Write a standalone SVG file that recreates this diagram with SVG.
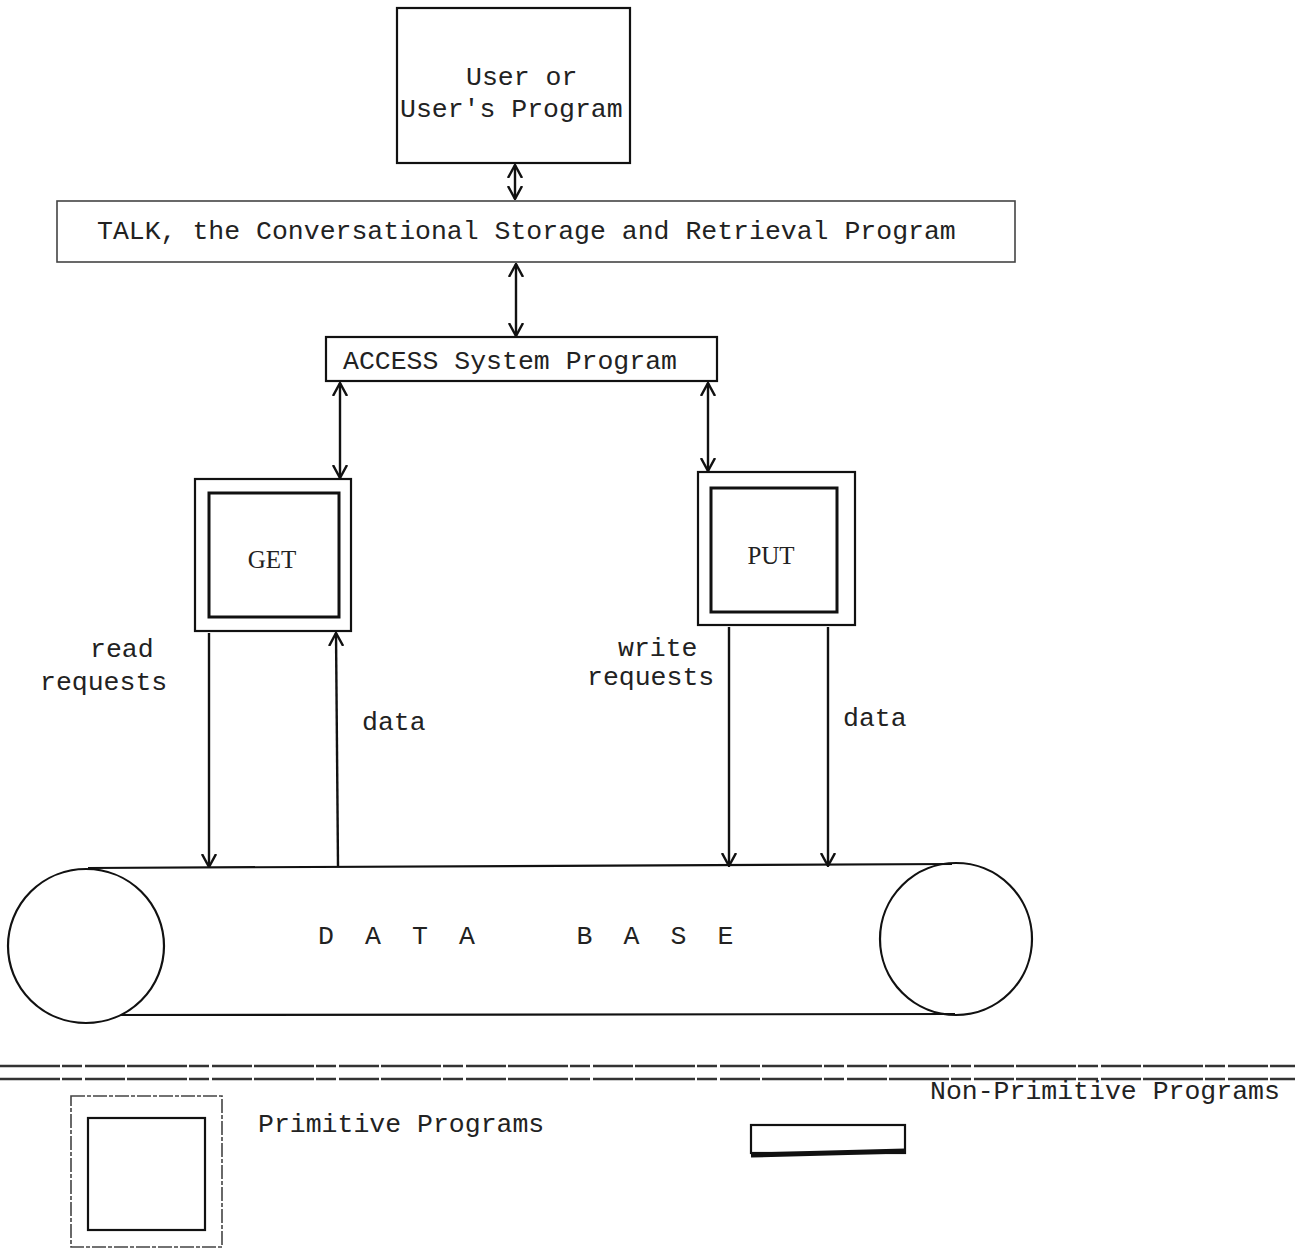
<svg xmlns="http://www.w3.org/2000/svg" width="1295" height="1250" viewBox="0 0 1295 1250">
<style>
  .t { font-family: "Liberation Mono", "Courier New", monospace; font-size: 26.5px; fill: #222; }
  .s { font-family: "Liberation Serif", "Times New Roman", serif; font-size: 25px; fill: #222; }
  .box { fill: none; stroke: #111; stroke-width: 2.2; }
  .boxg { fill: none; stroke: #444; stroke-width: 1.6; }
  .inner { fill: none; stroke: #111; stroke-width: 3; }
  .conn { fill: none; stroke: #111; stroke-width: 2.4; }
  .sep { fill: none; stroke: #333; stroke-width: 2.4; stroke-dasharray: 60 2 20 3 40 2; }
</style>
<defs>
  <marker id="ah" viewBox="0 0 14 16" refX="13" refY="8" markerWidth="14" markerHeight="16" markerUnits="userSpaceOnUse" orient="auto-start-reverse">
    <path d="M0,1 L13,8 L0,15" fill="none" stroke="#111" stroke-width="2.4"/>
  </marker>
</defs>
<rect width="1295" height="1250" fill="#fff"/>

<g id="connectors">
  <line class="conn" x1="515" y1="165" x2="515" y2="199" marker-start="url(#ah)" marker-end="url(#ah)"/>
  <line class="conn" x1="516" y1="264" x2="516" y2="336" marker-start="url(#ah)" marker-end="url(#ah)"/>
  <line class="conn" x1="340" y1="383" x2="340" y2="478" marker-start="url(#ah)" marker-end="url(#ah)"/>
  <line class="conn" x1="708" y1="383" x2="708" y2="471" marker-start="url(#ah)" marker-end="url(#ah)"/>
  <line class="conn" x1="209" y1="633" x2="209" y2="867" marker-end="url(#ah)"/>
  <line class="conn" x1="338" y1="866" x2="336" y2="633" marker-end="url(#ah)"/>
  <line class="conn" x1="729" y1="627" x2="729" y2="866" marker-end="url(#ah)"/>
  <line class="conn" x1="828" y1="627" x2="828" y2="866" marker-end="url(#ah)"/>
  <text class="t" x="90" y="657">read</text>
  <text class="t" x="40" y="690">requests</text>
  <text class="t" x="362" y="730">data</text>
  <text class="t" x="618" y="656">write</text>
  <text class="t" x="587" y="685">requests</text>
  <text class="t" x="843" y="726">data</text>
</g>

<g id="user">
  <rect class="box" x="397" y="8" width="233" height="155"/>
  <text class="t" x="466" y="85">User or</text>
  <text class="t" x="400" y="117">User's Program</text>
</g>

<g id="talk">
  <rect class="boxg" x="57" y="201" width="958" height="61"/>
  <text class="t" x="97" y="239">TALK, the Conversational Storage and Retrieval Program</text>
</g>

<g id="access">
  <rect class="box" x="326" y="337" width="391" height="44"/>
  <text class="t" x="343" y="369">ACCESS System Program</text>
</g>

<g id="get">
  <rect class="box" x="195" y="479" width="156" height="152"/>
  <rect class="inner" x="209" y="493" width="130" height="124"/>
  <text class="s" x="272" y="568" text-anchor="middle">GET</text>
</g>

<g id="put">
  <rect class="box" x="698" y="472" width="157" height="153"/>
  <rect class="inner" x="711" y="488" width="126" height="124"/>
  <text class="s" x="771" y="564" text-anchor="middle">PUT</text>
</g>

<g id="database">
  <line class="box" x1="88" y1="868" x2="952" y2="864"/>
  <line class="box" x1="110" y1="1015" x2="955" y2="1014"/>
  <ellipse cx="86" cy="946" rx="78" ry="77" fill="#fff" stroke="#111" stroke-width="2.2"/>
  <ellipse cx="956" cy="939" rx="76" ry="76" fill="none" stroke="#111" stroke-width="2.2"/>
  <text class="t" x="318" y="944" letter-spacing="7.6" xml:space="preserve">D A T A    B A S E</text>
</g>

<g id="separator">
  <line class="sep" x1="0" y1="1066" x2="1295" y2="1066"/>
  <line class="sep" x1="0" y1="1079" x2="1295" y2="1079"/>
</g>

<g id="legend-primitive">
  <rect class="boxg" x="71" y="1096" width="151" height="151" stroke-dasharray="14 2 4 2"/>
  <rect class="box" x="88" y="1118" width="117" height="112"/>
  <text class="t" x="258" y="1132">Primitive Programs</text>
</g>

<g id="legend-nonprimitive">
  <rect class="box" x="751" y="1125" width="154" height="28"/>
  <line x1="751" y1="1155" x2="905" y2="1151" stroke="#111" stroke-width="5"/>
  <text class="t" x="930" y="1099">Non-Primitive Programs</text>
</g>
</svg>
